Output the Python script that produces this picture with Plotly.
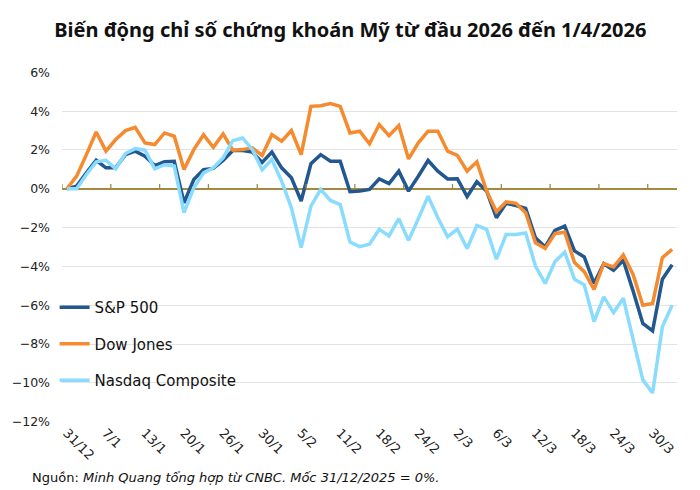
import plotly.graph_objects as go

dates = ["31/12", "2/1", "5/1", "6/1", "7/1", "8/1", "9/1", "12/1", "13/1", "14/1", "15/1", "16/1",
         "20/1", "21/1", "22/1", "23/1", "26/1", "27/1", "28/1", "29/1", "30/1",
         "2/2", "3/2", "4/2", "5/2", "6/2", "9/2", "10/2", "11/2", "12/2", "13/2",
         "17/2", "18/2", "19/2", "20/2", "23/2", "24/2", "25/2", "26/2", "27/2",
         "2/3", "3/3", "4/3", "5/3", "6/3", "9/3", "10/3", "11/3", "12/3", "13/3",
         "16/3", "17/3", "18/3", "19/3", "20/3", "23/3", "24/3", "25/3", "26/3", "27/3",
         "30/3", "31/3", "1/4"]

sp500 = [0, 0.14, 0.82, 1.47, 1.08, 1.08, 1.76, 1.94, 1.68, 1.2, 1.4, 1.42,
         -0.72, 0.48, 0.99, 1.05, 1.46, 1.97, 1.97, 1.89, 1.36,
         1.89, 1.08, 0.57, -0.63, 1.29, 1.76, 1.42, 1.42, -0.15, -0.12,
         -0.03, 0.51, 0.27, 0.91, -0.12, 0.65, 1.46, 0.91, 0.51,
         0.52, -0.4, 0.36, -0.12, -1.49, -0.75, -0.86, -1.01, -2.52, -3.0,
         -2.14, -1.92, -3.2, -3.51, -4.88, -3.86, -4.2, -3.69, -5.26, -6.94,
         -7.32, -4.66, -3.92]

dow = [0, 0.65, 1.76, 2.93, 1.94, 2.54, 3.0, 3.17, 2.36, 2.28, 2.88, 2.71,
       0.99, 2.02, 2.79, 2.14, 2.83, 1.99, 2.02, 2.11, 1.72,
       2.79, 2.45, 3.0, 1.76, 4.25, 4.28, 4.39, 4.25, 2.88, 2.97,
       2.32, 3.31, 2.74, 3.26, 1.54, 2.37, 2.97, 2.97, 1.94,
       1.72, 0.91, 1.39, -0.12, -1.18, -0.67, -0.75, -1.23, -2.78, -3.07,
       -2.31, -2.24, -3.8, -4.27, -5.18, -3.86, -4.03, -3.41, -4.41, -6.0,
       -5.91, -3.55, -3.12]

nasdaq = [0, 0, 0.74, 1.39, 1.47, 1.03, 1.82, 2.07, 1.99, 1.03, 1.24, 1.17,
          -1.23, 0.05, 0.82, 1.08, 1.59, 2.48, 2.62, 2.02, 0.98,
          1.51, 0.39, -0.98, -3.03, -0.89, -0.03, -0.6, -0.81, -2.74, -2.98,
          -2.86, -2.09, -2.43, -1.54, -2.66, -1.54, -0.38, -1.49, -2.47,
          -2.08, -3.08, -1.89, -2.09, -3.63, -2.35, -2.35, -2.28, -3.98, -4.88,
          -3.75, -3.27, -4.66, -4.95, -6.84, -5.57, -6.38, -5.64, -7.75, -9.85,
          -10.52, -7.11, -6.0]

series_names = ["S&P 500", "Dow Jones", "Nasdaq Composite"]
series_values = [sp500, dow, nasdaq]
series_colors = ["#22588F", "#F58A2E", "#8ADCFF"]

y_tick_values = [6, 4, 2, 0, -2, -4, -6, -8, -10, -12]
y_tick_labels = ["6%", "4%", "2%", "0%", "−2%", "−4%", "−6%", "−8%", "−10%", "−12%"]

label_step = 4
tick_step = 5

FONT = "DejaVu Sans"
AXIS_GOLD = "#A38A3F"

n = len(dates)
x_pos = list(range(n))
label_pos = x_pos[::label_step]
label_text = [dates[i] for i in label_pos]

fig = go.Figure()
for name, vals, col in zip(series_names, series_values, series_colors):
    fig.add_trace(go.Scatter(
        x=x_pos, y=vals, name=name, mode="lines",
        line=dict(color=col, width=3.5),
        legendgroup=name,
        customdata=dates,
        hovertemplate="%{customdata}: %{y}%<extra>" + name + "</extra>",
    ))

shapes = []
k = -0.5
while k <= n - 0.5 + 1e-9:
    shapes.append(dict(type="line", xref="x", yref="y", x0=k, x1=k,
                       y0=0, y1=0.25, layer="above",
                       line=dict(color=AXIS_GOLD, width=1.3)))
    k += tick_step

fig.update_layout(
    width=700, height=490,
    margin=dict(l=54, r=31, t=64, b=76),
    paper_bgcolor="white", plot_bgcolor="white",
    title=dict(text="<b>Biến động chỉ số chứng khoán Mỹ từ đầu 2026 đến 1/4/2026</b>",
               x=0.489, xanchor="center", y=0.955, yanchor="middle",
               font=dict(family="Noto Sans", size=20, color="#111111")),
    font=dict(family=FONT, size=13, color="#222222"),
    showlegend=True,
    legend=dict(x=-0.012, y=0.374, xanchor="left", yanchor="top",
                bgcolor="rgba(0,0,0,0)", font=dict(family=FONT, size=15, color="#111111"),
                tracegroupgap=14),
    shapes=shapes,
    annotations=[dict(
        text="Nguồn: <i>Minh Quang tổng hợp từ CNBC. Mốc 31/12/2025 = 0%.</i>",
        xref="paper", yref="paper", x=-0.052, y=-0.158,
        xanchor="left", yanchor="middle", showarrow=False,
        font=dict(family=FONT, size=13, color="#111111"))],
)

fig.update_xaxes(
    range=[-0.5, n - 0.5], automargin=False,
    tickmode="array", tickvals=label_pos, ticktext=label_text,
    tickangle=45, showgrid=False, showline=False, zeroline=False, ticks="",
    tickfont=dict(family=FONT, size=13, color="#222222"),
)
fig.update_yaxes(
    range=[-12.02, 6.02], automargin=False,
    tickmode="array", tickvals=y_tick_values, ticktext=y_tick_labels,
    showgrid=True, gridcolor="#E3E3E3", gridwidth=1,
    zeroline=True, zerolinecolor=AXIS_GOLD, zerolinewidth=1.5,
    showline=False, ticks="", ticklabelstandoff=11,
    tickfont=dict(family=FONT, size=12.5, color="#222222"),
)

fig.write_html("out.html")
